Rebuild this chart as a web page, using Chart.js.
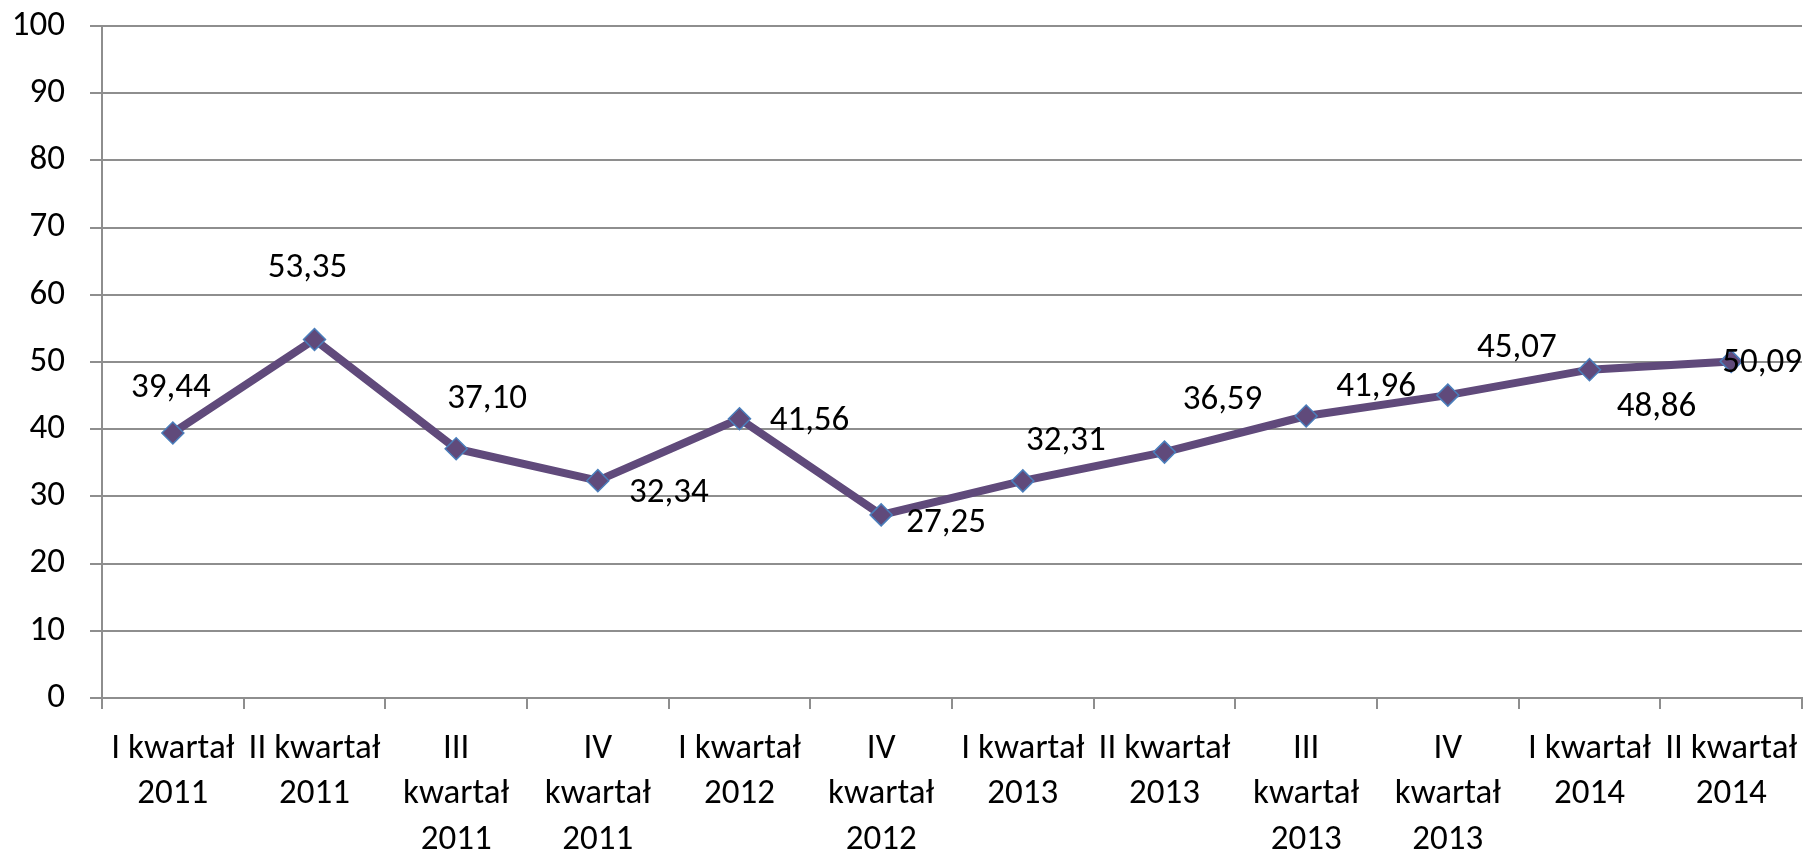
<!DOCTYPE html>
<html>
<head>
<meta charset="utf-8">
<script src="https://cdn.jsdelivr.net/npm/chart.js@4/dist/chart.umd.min.js"></script>
<style>
  html, body { margin: 0; padding: 0; background: #fff; }
  #wrap { width: 1808px; height: 852px; }
</style>
</head>
<body>
<div id="wrap"><canvas id="kwartalChart"></canvas></div>
<script>
// kategorie (kwartały) - podzielone na linie jak w oryginale
const categories = [
  ["I kwartał", "2011"],
  ["II kwartał", "2011"],
  ["III", "kwartał", "2011"],
  ["IV", "kwartał", "2011"],
  ["I kwartał", "2012"],
  ["IV", "kwartał", "2012"],
  ["I kwartał", "2013"],
  ["II kwartał", "2013"],
  ["III", "kwartał", "2013"],
  ["IV", "kwartał", "2013"],
  ["I kwartał", "2014"],
  ["II kwartał", "2014"]
];

const values = [39.44, 53.35, 37.10, 32.34, 41.56, 27.25, 32.31, 36.59, 41.96, 45.07, 48.86, 50.09];

const yTicks = [0, 10, 20, 30, 40, 50, 60, 70, 80, 90, 100];

// przesuniecie etykiet danych wzgledem punktu (px)
const labelOffsets = [
  [-2, -45], [-7, -71], [31, -49], [71, 13], [70, 3], [65, 8],
  [43, -40], [58, -52], [70, -29], [69, -47], [67, 38], [31, 2]
];

const FONT = "Carlito, Lato, 'Liberation Sans', sans-serif";
const FONT_SIZE = 35;
const gridColor = "#8e8e8e";

const dataLabels = {
  id: "dataLabels",
  afterDatasetsDraw(chart) {
    const ctx = chart.ctx;
    const meta = chart.getDatasetMeta(0);
    ctx.save();
    ctx.font = FONT_SIZE + "px " + FONT;
    ctx.fillStyle = "#000";
    ctx.textAlign = "center";
    ctx.textBaseline = "middle";
    meta.data.forEach((pt, i) => {
      const off = labelOffsets[i];
      const txt = values[i].toFixed(2).replace(".", ",");
      ctx.fillText(txt, pt.x + off[0], pt.y + off[1]);
    });
    ctx.restore();
  }
};

const ctx = document.getElementById("kwartalChart").getContext("2d");

new Chart(ctx, {
  type: "line",
  data: {
    labels: categories,
    datasets: [{
      data: values,
      borderColor: "#604A7B",
      backgroundColor: "#604A7B",
      borderWidth: 8,
      tension: 0,
      fill: false,
      pointStyle: "rectRot",
      pointRadius: 11,
      pointBackgroundColor: "#604A7B",
      pointBorderColor: "#4A7EBB",
      pointBorderWidth: 1.5
    }]
  },
  options: {
    responsive: true,
    maintainAspectRatio: false,
    animation: false,
    layout: {
      autoPadding: false,
      padding: { left: 13, right: 6, top: 26, bottom: 0 }
    },
    plugins: {
      legend: { display: false },
      tooltip: { enabled: false },
      title: { display: false }
    },
    scales: {
      x: {
        type: "category",
        offset: true,
        afterFit: (scale) => {
          scale.height = 154;
          scale.paddingLeft = 0;
          scale.paddingRight = 0;
        },
        grid: {
          offset: true,
          drawOnChartArea: false,
          drawTicks: true,
          tickLength: 11,
          color: gridColor,
          lineWidth: 2
        },
        border: { display: true, color: gridColor, width: 2 },
        ticks: {
          autoSkip: false,
          maxRotation: 0,
          minRotation: 0,
          padding: 18,
          color: "#000",
          font: { family: FONT, size: FONT_SIZE, lineHeight: 1.29 }
        }
      },
      y: {
        min: 0,
        max: 100,
        afterBuildTicks: (axis) => {
          axis.ticks = yTicks.map(v => ({ value: v }));
        },
        afterFit: (scale) => {
          scale.width = 89;
          scale.paddingTop = 0;
          scale.paddingBottom = 0;
        },
        grid: {
          drawTicks: true,
          tickLength: 12,
          color: gridColor,
          lineWidth: 2
        },
        border: { display: true, color: gridColor, width: 2 },
        ticks: {
          padding: 25,
          color: "#000",
          font: { family: FONT, size: FONT_SIZE }
        }
      }
    }
  },
  plugins: [dataLabels]
});
</script>
</body>
</html>
